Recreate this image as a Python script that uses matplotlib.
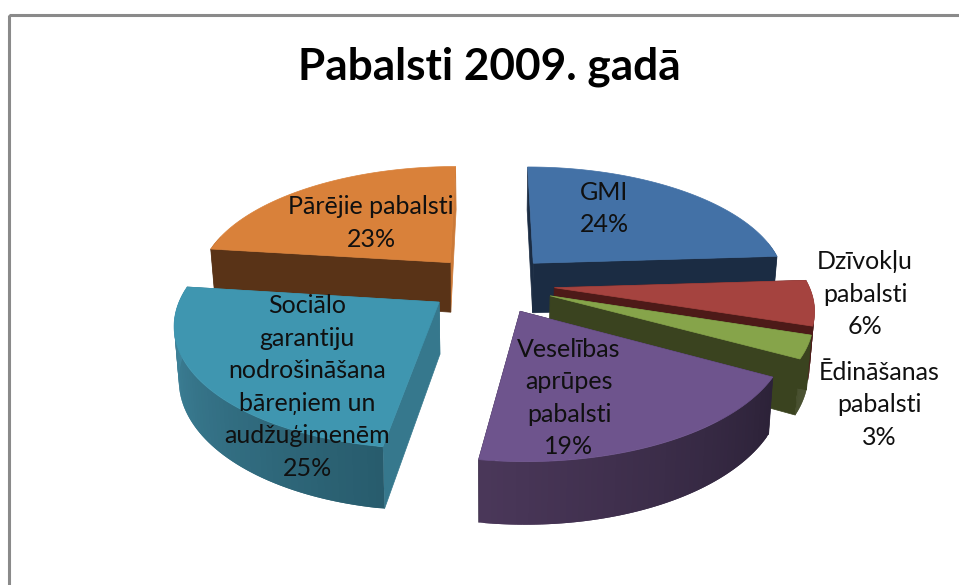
#!/usr/bin/env python3
# -*- coding: utf-8 -*-
import numpy as np
import matplotlib
matplotlib.use('Agg')
import matplotlib.pyplot as plt
from matplotlib.colors import to_rgb
from matplotlib.patches import Polygon

title = 'Pabalsti 2009. gadā'
# categories, already wrapped the way the chart wraps them
labels = ['GMI', 'Dzīvokļu\npabalsti', 'Ēdināšanas\npabalsti',
          'Veselības\naprūpes\npabalsti',
          'Sociālo\ngarantiju\nnodrošināšana\nbāreņiem un\naudžuģimenēm',
          'Pārējie pabalsti']
# shares in %, the labels show them rounded
values = [24.0, 6.0, 3.0, 19.4, 24.6, 23.0]

top_colors = ['#4371a6', '#a5433f', '#86a44a', '#6e548d', '#3f96b0', '#d9813a']
face_colors = ['#1b2c43', '#4d1a18', '#3a431f', '#2d233a', '#36788d', '#593317']
end_colors = ['#1b2c43', '#4d1a18', '#3a431f', '#2d233a', '#36788d', '#cc7a38']
curve_from = ['#1b2c43', '#4d1a18', '#3a431f', '#2c2238', '#285c6d', '#593317']
curve_to = ['#1b2c43', '#4d1a18', '#3a431f', '#4a3759', '#4188a0', '#593317']
# back to front, later slices cover the side of earlier ones
draw_order = [0, 5, 1, 2, 3, 4]
label_pos = [(604, 208.5), (865, 294), (879, 405), (569, 398), (307, 387), (371, 223)]

# projection of the tilted pie to pixels
cx, cy = 491.0, 284.0
rx, ry = 254.0, 117.3
persp = 0.1565
explode = 0.25
depth = 51.0
narrow = 0.015


def project(x, z, down=0.0):
    s = 1.0 / (1.0 - persp * z)
    return cx + rx * x * s * (1 - narrow * down / depth), cy + (ry * z + down) * s


def slice_points(a0, a1, off_x, off_z, down=0.0, n=80):
    t = np.radians(np.linspace(a0, a1, n))
    return project(off_x + np.sin(t), off_z - np.cos(t), down)


fig = plt.figure(figsize=(9.59, 5.85), dpi=100)
ax = fig.add_axes([0, 0, 1, 1])
ax.set_xlim(0, 959)
ax.set_ylim(585, 0)
ax.axis('off')

# chart frame, runs off the picture on the right and at the bottom
ax.add_patch(plt.Rectangle((9, 14.5), 1000, 700, fill=False, ec='#8a8a8a', lw=2.2))

edges = np.cumsum([0] + values) * 3.6
for i in draw_order:
    a0, a1 = edges[i], edges[i + 1]
    mid = np.radians((a0 + a1) / 2)
    ox, oz = explode * np.sin(mid), -explode * np.cos(mid)
    apex = project(ox, oz)
    apex_low = project(ox, oz, depth)

    # flat cut faces
    for ang, col in ((a1, end_colors[i]), (a0, face_colors[i])):
        t = np.radians(ang)
        tip = project(ox + np.sin(t), oz - np.cos(t))
        tip_low = project(ox + np.sin(t), oz - np.cos(t), depth)
        ax.add_patch(Polygon([apex, tip, tip_low, apex_low], fc=col, ec=col, lw=0.5))

    # outer rim in thin overlapping strips so it can shade along the arc
    steps = np.linspace(a0, a1, 61)
    c0, c1 = np.array(to_rgb(curve_from[i])), np.array(to_rgb(curve_to[i]))
    for k in range(59):
        # the far part of the rim is behind the slice
        if np.cos(np.radians(steps[k])) > 0.2:
            continue
        xu, yu = slice_points(steps[k], steps[k + 2], ox, oz, 0.0, 3)
        xl, yl = slice_points(steps[k], steps[k + 2], ox, oz, depth, 3)
        col = c0 + (c1 - c0) * k / 58
        ax.fill(list(xu) + list(xl[::-1]), list(yu) + list(yl[::-1]),
                fc=col, ec='none')

    # top surface
    xs, ys = slice_points(a0, a1, ox, oz)
    ax.fill([apex[0]] + list(xs), [apex[1]] + list(ys), fc=top_colors[i],
            ec=top_colors[i], lw=0.5)

font = ['Lato', 'DejaVu Sans']
for lab, val, pos in zip(labels, values, label_pos):
    ax.text(pos[0], pos[1], '%s\n%.0f%%' % (lab, val), ha='center', va='center',
            fontsize=18, family=font, color='#101010', linespacing=1.5)
ax.text(489, 67, title, ha='center', va='center', fontsize=31.8, fontweight='bold',
        family=font, color='black')

plt.savefig('out.png', dpi=100)
